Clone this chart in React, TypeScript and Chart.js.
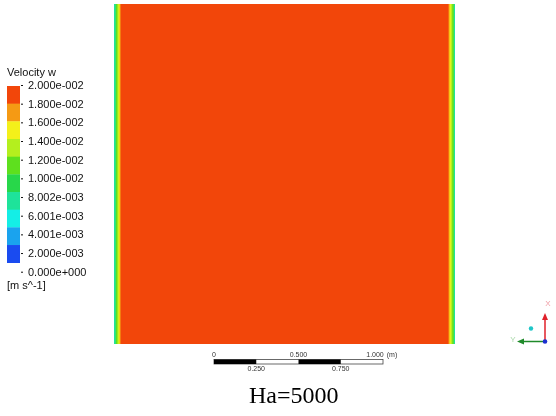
import React, { useEffect, useRef } from "react";
import { Chart, registerables } from "chart.js";

Chart.register(...registerables);

// Contour levels of the w velocity component (m/s), bottom to top
const levelValues = [0, 0.002, 0.004, 0.006, 0.008, 0.01, 0.012, 0.014, 0.016, 0.018, 0.02];
const levelLabels = [
  "0.000e+000",
  "2.000e-003",
  "4.001e-003",
  "6.001e-003",
  "8.002e-003",
  "1.000e-002",
  "1.200e-002",
  "1.400e-002",
  "1.600e-002",
  "1.800e-002",
  "2.000e-002",
];
// One colour per band between consecutive levels, bottom to top
const bandColors = [
  "#1a4bf0",
  "#1aa3ee",
  "#14eee6",
  "#1ee39a",
  "#28d74a",
  "#5ee01e",
  "#b4ef1e",
  "#f4f01a",
  "#f59a14",
  "#f2460a",
];

// Velocity profile across the duct (x in m): thin Hartmann layers at both walls, flat core
const stripEdges = [0, 0.004, 0.009, 0.0125, 0.0155, 0.0185, 0.98, 0.983, 0.9865, 0.991, 0.9955, 1.0];
const stripVelocity = [0.007, 0.011, 0.013, 0.015, 0.017, 0.0195, 0.017, 0.015, 0.013, 0.011, 0.007];

// Length scale bar
const scaleTicksTop = ["0", "0.500", "1.000"];
const scaleTicksBottom = ["0.250", "0.750"];
const scaleUnit = "(m)";

const caption = "Ha=5000";

function bandColor(v: number): string {
  for (let i = 0; i < bandColors.length; i++) {
    if (v <= levelValues[i + 1]) return bandColors[i];
  }
  return bandColors[bandColors.length - 1];
}

const annotations = {
  id: "contourAnnotations",
  afterDraw(chart: Chart) {
    const ctx = chart.ctx;
    ctx.save();
    const sans = '"Liberation Sans", Arial, sans-serif';

    // Colour legend
    ctx.fillStyle = "#111";
    ctx.font = `11px ${sans}`;
    ctx.textBaseline = "middle";
    ctx.textAlign = "left";
    ctx.fillText("Velocity w", 7, 73);
    const boxTop = 86;
    const boxH = 17.67;
    const n = bandColors.length;
    for (let i = 0; i < n; i++) {
      ctx.fillStyle = bandColors[n - 1 - i];
      ctx.fillRect(7, boxTop + i * boxH, 13, boxH + 0.3);
    }
    ctx.fillStyle = "#111";
    for (let i = 0; i < levelLabels.length; i++) {
      const y = 85 + i * 18.67;
      ctx.fillRect(21, y, 2, 1);
      ctx.fillText(levelLabels[levelLabels.length - 1 - i], 28, y + 1);
    }
    ctx.fillText("[m s^-1]", 7, 286);

    // Scale bar
    const x0 = 214;
    const x1 = 383;
    const yb = 359.5;
    const bh = 4.5;
    ctx.strokeStyle = "#444";
    ctx.lineWidth = 0.8;
    ctx.fillStyle = "#fff";
    ctx.fillRect(x0, yb, x1 - x0, bh);
    ctx.strokeRect(x0, yb, x1 - x0, bh);
    ctx.fillStyle = "#000";
    const q = (x1 - x0) / 4;
    ctx.fillRect(x0, yb, q, bh);
    ctx.fillRect(x0 + 2 * q, yb, q, bh);
    ctx.fillStyle = "#333";
    ctx.font = `7px ${sans}`;
    ctx.textAlign = "center";
    ctx.fillText(scaleTicksTop[0], x0, 355);
    ctx.fillText(scaleTicksTop[1], x0 + 2 * q, 355);
    ctx.fillText(scaleTicksTop[2], x1 - 8, 355);
    ctx.fillText(scaleUnit, 392, 355);
    ctx.fillText(scaleTicksBottom[0], x0 + q, 369.5);
    ctx.fillText(scaleTicksBottom[1], x0 + 3 * q, 369.5);

    // Axis triad
    const ox = 545;
    const oy = 341.5;
    ctx.lineWidth = 1.5;
    ctx.strokeStyle = "#e0202a";
    ctx.beginPath();
    ctx.moveTo(ox, oy);
    ctx.lineTo(ox, 318);
    ctx.stroke();
    ctx.fillStyle = "#e0202a";
    ctx.beginPath();
    ctx.moveTo(ox, 313);
    ctx.lineTo(ox - 3, 320);
    ctx.lineTo(ox + 3, 320);
    ctx.closePath();
    ctx.fill();
    ctx.strokeStyle = "#1f8a2a";
    ctx.beginPath();
    ctx.moveTo(ox, oy);
    ctx.lineTo(522, oy);
    ctx.stroke();
    ctx.fillStyle = "#1f8a2a";
    ctx.beginPath();
    ctx.moveTo(517, oy);
    ctx.lineTo(524, oy - 3);
    ctx.lineTo(524, oy + 3);
    ctx.closePath();
    ctx.fill();
    ctx.fillStyle = "#1c2fd0";
    ctx.beginPath();
    ctx.arc(ox, oy, 2.3, 0, Math.PI * 2);
    ctx.fill();
    ctx.fillStyle = "#1fc6c8";
    ctx.beginPath();
    ctx.arc(531, 328.5, 2.2, 0, Math.PI * 2);
    ctx.fill();
    ctx.font = `8px ${sans}`;
    ctx.fillStyle = "#f0a0a8";
    ctx.fillText("X", 548, 304);
    ctx.fillStyle = "#a8d8a8";
    ctx.fillText("Y", 513, 340);
    ctx.restore();
  },
};

export default function App() {
  const canvasRef = useRef<HTMLCanvasElement | null>(null);

  useEffect(() => {
    if (!canvasRef.current) return;
    const datasets = stripVelocity.map((v, i) => ({
      label: `w ${v}`,
      data: [[stripEdges[i], stripEdges[i + 1]]] as any,
      backgroundColor: bandColor(v),
      borderWidth: 0,
      borderSkipped: false,
      grouped: false,
      barPercentage: 1,
      categoryPercentage: 1,
    }));
    const chart = new Chart(canvasRef.current, {
      type: "bar",
      data: { labels: ["duct"], datasets },
      options: {
        responsive: false,
        animation: false,
        indexAxis: "y",
        layout: { padding: { left: 114, right: 101, top: 4, bottom: 72 } },
        plugins: { legend: { display: false }, tooltip: { enabled: false }, title: { display: false } },
        scales: {
          x: { type: "linear", min: 0, max: 1, display: false },
          y: { display: false },
        },
      },
      plugins: [annotations],
    });
    return () => chart.destroy();
  }, []);

  return (
    <div style={{ position: "absolute", left: 0, top: 0, width: 556, height: 416, background: "#fff" }}>
      <canvas ref={canvasRef} width={556} height={416} style={{ position: "absolute", left: 0, top: 0 }} />
      <div
        style={{
          position: "absolute",
          left: 249,
          top: 383,
          fontFamily: '"Liberation Serif", "Times New Roman", serif',
          fontSize: 24,
          lineHeight: "24px",
          color: "#000",
          whiteSpace: "nowrap",
        }}
      >
        {caption}
      </div>
    </div>
  );
}
